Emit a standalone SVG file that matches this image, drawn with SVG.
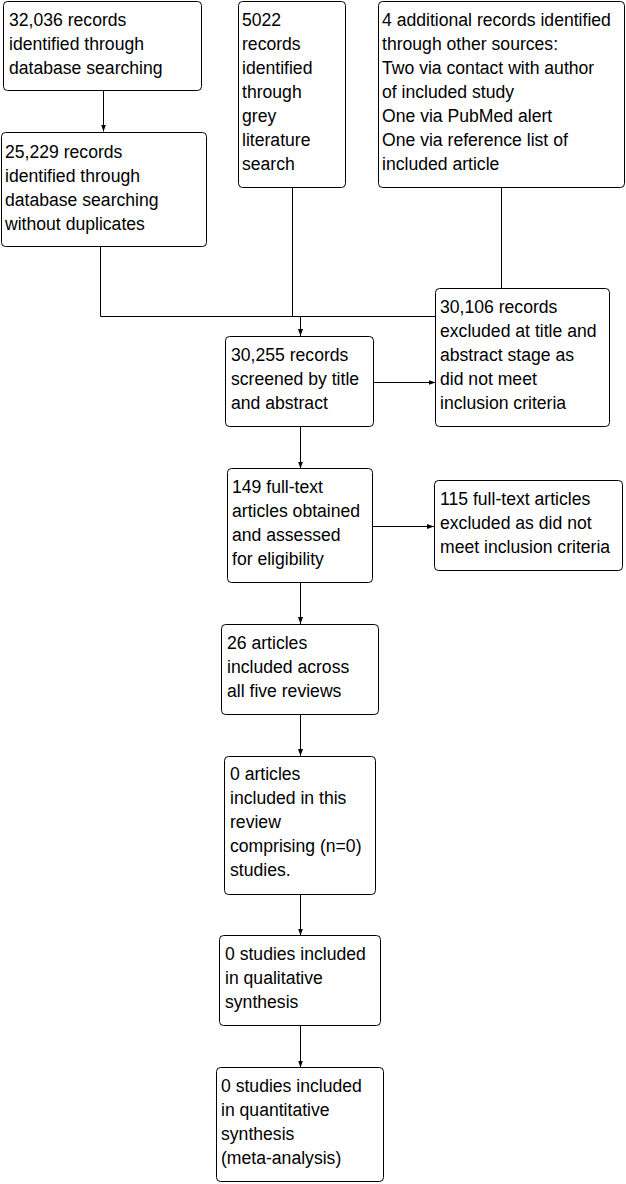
<svg xmlns="http://www.w3.org/2000/svg" width="626" height="1184" viewBox="0 0 626 1184">
<style>
.box{fill:#fff;stroke:#000;stroke-width:1}
.t{font-family:"Liberation Sans",Arial,sans-serif;font-size:17.6px;fill:#000}
.c{fill:none;stroke:#000;stroke-width:1}
</style>
<defs>
<marker id="ah" markerUnits="userSpaceOnUse" markerWidth="8" markerHeight="6" refX="7" refY="3" orient="auto">
<path d="M0,0.5 L7,3 L0,5.5 z" fill="#000"/>
</marker>
</defs>
<rect width="626" height="1184" fill="#fff"/>
<g id="connectors">
<path class="c" d="M103.5,91 V131.5" marker-end="url(#ah)"/>
<path class="c" d="M100.5,247 V316.5 H436"/>
<path class="c" d="M292.5,187 V316.5"/>
<path class="c" d="M501.5,187 V289"/>
<path class="c" d="M300.5,316.5 V336" marker-end="url(#ah)"/>
<path class="c" d="M374,382.5 H435.5" marker-end="url(#ah)"/>
<path class="c" d="M300.5,427 V468.5" marker-end="url(#ah)"/>
<path class="c" d="M373,526.5 H434" marker-end="url(#ah)"/>
<path class="c" d="M300.5,583 V624" marker-end="url(#ah)"/>
<path class="c" d="M300.5,715 V756" marker-end="url(#ah)"/>
<path class="c" d="M300.5,895 V935.5" marker-end="url(#ah)"/>
<path class="c" d="M300.5,1026 V1067.5" marker-end="url(#ah)"/>
</g>
<g id="n1"><rect class="box" x="3.5" y="1.5" width="198" height="89" rx="4"/>
<text class="t" x="9" y="26">32,036 records</text><text class="t" x="9" y="50">identified through</text><text class="t" x="9" y="74">database searching</text></g>
<g id="n2"><rect class="box" x="1.5" y="132.5" width="205" height="114" rx="4"/>
<text class="t" x="5" y="158">25,229 records</text><text class="t" x="5" y="182">identified through</text><text class="t" x="5" y="206">database searching</text><text class="t" x="5" y="230">without duplicates</text></g>
<g id="n3"><rect class="box" x="238.5" y="1.5" width="107" height="186" rx="4"/>
<text class="t" x="242" y="26">5022</text><text class="t" x="242" y="50">records</text><text class="t" x="242" y="74">identified</text><text class="t" x="242" y="98">through</text><text class="t" x="242" y="122">grey</text><text class="t" x="242" y="146">literature</text><text class="t" x="242" y="170">search</text></g>
<g id="n4"><rect class="box" x="378.5" y="1.5" width="246" height="186" rx="4"/>
<text class="t" x="382" y="26">4 additional records identified</text><text class="t" x="382" y="50">through other sources:</text><text class="t" x="382" y="74">Two via contact with author</text><text class="t" x="382" y="98">of included study</text><text class="t" x="382" y="122">One via PubMed alert</text><text class="t" x="382" y="146">One via reference list of</text><text class="t" x="382" y="170">included article</text></g>
<g id="n5"><rect class="box" x="435.5" y="288.5" width="174" height="138" rx="4"/>
<text class="t" x="440" y="313">30,106 records</text><text class="t" x="440" y="337">excluded at title and</text><text class="t" x="440" y="361">abstract stage as</text><text class="t" x="440" y="385">did not meet</text><text class="t" x="440" y="409">inclusion criteria</text></g>
<g id="n6"><rect class="box" x="225.5" y="336.5" width="148" height="90" rx="4"/>
<text class="t" x="231" y="361">30,255 records</text><text class="t" x="231" y="385">screened by title</text><text class="t" x="231" y="409">and abstract</text></g>
<g id="n7"><rect class="box" x="227.5" y="468.5" width="145" height="114" rx="4"/>
<text class="t" x="232" y="493">149 full-text</text><text class="t" x="232" y="517">articles obtained</text><text class="t" x="232" y="541">and assessed</text><text class="t" x="232" y="565">for eligibility</text></g>
<g id="n8"><rect class="box" x="434.5" y="480.5" width="188" height="90" rx="4"/>
<text class="t" x="440" y="505">115 full-text articles</text><text class="t" x="440" y="529">excluded as did not</text><text class="t" x="440" y="553">meet inclusion criteria</text></g>
<g id="n9"><rect class="box" x="221.5" y="624.5" width="157" height="90" rx="4"/>
<text class="t" x="227" y="649">26 articles</text><text class="t" x="227" y="673">included across</text><text class="t" x="227" y="697">all five reviews</text></g>
<g id="n10"><rect class="box" x="224.5" y="756.5" width="151" height="138" rx="4"/>
<text class="t" x="230" y="780">0 articles</text><text class="t" x="230" y="804">included in this</text><text class="t" x="230" y="828">review</text><text class="t" x="230" y="852">comprising (n=0)</text><text class="t" x="230" y="876">studies.</text></g>
<g id="n11"><rect class="box" x="219.5" y="935.5" width="161" height="90" rx="4"/>
<text class="t" x="225" y="960">0 studies included</text><text class="t" x="225" y="984">in qualitative</text><text class="t" x="225" y="1008">synthesis</text></g>
<g id="n12"><rect class="box" x="216.5" y="1067.5" width="167" height="114" rx="4"/>
<text class="t" x="221" y="1092">0 studies included</text><text class="t" x="221" y="1116">in quantitative</text><text class="t" x="221" y="1140">synthesis</text><text class="t" x="221" y="1164">(meta-analysis)</text></g>
</svg>
